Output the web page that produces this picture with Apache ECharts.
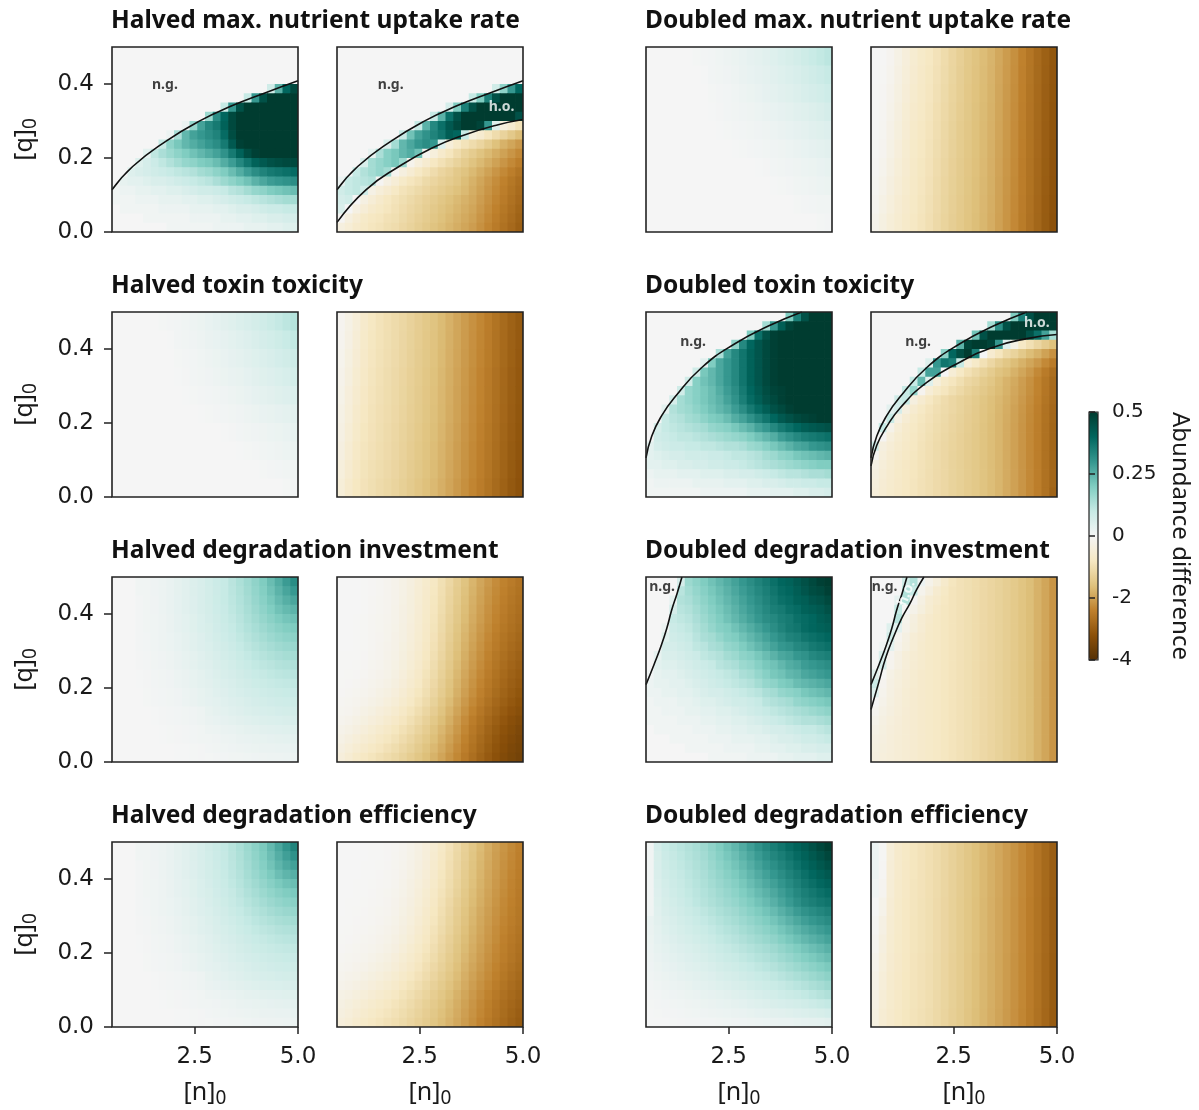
<!DOCTYPE html>
<html>
<head>
<meta charset="utf-8">
<script src="https://cdn.jsdelivr.net/npm/echarts@6/dist/echarts.min.js"></script>
<style>
html,body{margin:0;padding:0;background:#ffffff;}
#chart{width:1199px;height:1110px;}
</style>
</head>
<body>
<div id="chart"></div>
<script>
// ---------------- tick labels / titles ----------------
const panelTitles = [
  'Halved max. nutrient uptake rate', 'Doubled max. nutrient uptake rate',
  'Halved toxin toxicity', 'Doubled toxin toxicity',
  'Halved degradation investment', 'Doubled degradation investment',
  'Halved degradation efficiency', 'Doubled degradation efficiency'
];
const xTicks = [2.5, 5.0];
const yTicks = [0.0, 0.2, 0.4];
const cbTickPos = [-1, -0.5, 0, 0.5, 1];
const cbTickLabels = ['-4', '-2', '0', '0.25', '0.5'];
const xName = '{m|[n]}{s|0}';
const yName = '{m|[q]}{s|0}';
const cbName = 'Abundance difference';

// ---------------- abundance-difference fields (rows: top q=0.5 -> bottom q=0; cols: n=0.5 -> 5) ----------------
const uptakeHalvedLeft = [
[0,0,0,0,0,0,0,0,0,0,0,0,0,0,0,0,0,0,0,0,0,0,0,0],
[0,0,0,0,0,0,0,0,0,0,0,0,0,0,0,0,0,0,0,0,0,0,0,0],
[0,0,0,0,0,0,0,0,0,0,0,0,0,0,0,0,0,0,0,0,0,0,0,0],
[0,0,0,0,0,0,0,0,0,0,0,0,0,0,0,0,0,0,0,0,0,0,0,0],
[0,0,0,0,0,0,0,0,0,0,0,0,0,0,0,0,0,0,0,0,0.08,0.25,0.4,0.47],
[0,0,0,0,0,0,0,0,0,0,0,0,0,0,0,0,0,0.1,0.3,0.45,0.5,0.5,0.5,0.5],
[0,0,0,0,0,0,0,0,0,0,0,0,0,0,0.1,0.3,0.45,0.5,0.5,0.5,0.5,0.5,0.5,0.5],
[0,0,0,0,0,0,0,0,0,0,0,0,0.16,0.32,0.4,0.47,0.5,0.5,0.5,0.5,0.5,0.5,0.5,0.5],
[0,0,0,0,0,0,0,0,0,0.02,0.17,0.28,0.33,0.36,0.41,0.47,0.5,0.5,0.5,0.5,0.5,0.5,0.5,0.5],
[0,0,0,0,0,0,0,0.02,0.14,0.24,0.28,0.3,0.32,0.34,0.39,0.46,0.5,0.5,0.5,0.5,0.5,0.5,0.5,0.5],
[0,0,0,0,0,0,0.1,0.18,0.21,0.24,0.26,0.28,0.3,0.32,0.36,0.43,0.49,0.5,0.5,0.5,0.5,0.5,0.5,0.5],
[0,0,0,0,0.04,0.11,0.14,0.16,0.18,0.2,0.22,0.24,0.26,0.28,0.31,0.36,0.41,0.46,0.49,0.5,0.5,0.5,0.5,0.5],
[0,0,0,0.05,0.07,0.09,0.11,0.13,0.15,0.17,0.18,0.2,0.21,0.23,0.26,0.29,0.33,0.37,0.41,0.43,0.45,0.46,0.47,0.47],
[0,0,0.05,0.06,0.07,0.08,0.09,0.1,0.11,0.12,0.13,0.15,0.16,0.18,0.2,0.23,0.26,0.29,0.32,0.34,0.36,0.37,0.38,0.39],
[0,0.03,0.04,0.04,0.05,0.06,0.06,0.07,0.08,0.09,0.1,0.11,0.12,0.14,0.16,0.18,0.2,0.22,0.25,0.27,0.29,0.3,0.31,0.32],
[0.01,0.02,0.02,0.03,0.03,0.04,0.04,0.05,0.05,0.06,0.07,0.08,0.08,0.09,0.1,0.12,0.13,0.15,0.17,0.18,0.2,0.21,0.22,0.23],
[0.01,0.01,0.01,0.02,0.02,0.02,0.03,0.03,0.03,0.04,0.04,0.05,0.05,0.06,0.07,0.08,0.09,0.1,0.11,0.12,0.13,0.14,0.15,0.15],
[0,0.01,0.01,0.01,0.01,0.01,0.02,0.02,0.02,0.02,0.03,0.03,0.03,0.04,0.04,0.05,0.06,0.06,0.07,0.08,0.09,0.09,0.1,0.1],
[0,0,0,0,0.01,0.01,0.01,0.01,0.01,0.01,0.02,0.02,0.02,0.02,0.03,0.03,0.04,0.04,0.05,0.05,0.06,0.06,0.07,0.07],
[0,0,0,0,0,0,0,0.01,0.01,0.01,0.01,0.01,0.01,0.02,0.02,0.02,0.02,0.03,0.03,0.03,0.04,0.04,0.05,0.05]
];
const uptakeHalvedRight = [
[0,0,0,0,0,0,0,0,0,0,0,0,0,0,0,0,0,0,0,0,0,0,0,0],
[0,0,0,0,0,0,0,0,0,0,0,0,0,0,0,0,0,0,0,0,0,0,0,0],
[0,0,0,0,0,0,0,0,0,0,0,0,0,0,0,0,0,0,0,0,0,0,0,0],
[0,0,0,0,0,0,0,0,0,0,0,0,0,0,0,0,0,0,0,0,0,0,0,0],
[0,0,0,0,0,0,0,0,0,0,0,0,0,0,0,0,0,0,0,0,0.08,0.18,0.3,0.4],
[0,0,0,0,0,0,0,0,0,0,0,0,0,0,0,0,0,0.1,0.2,0.35,0.45,0.5,0.5,0.5],
[0,0,0,0,0,0,0,0,0,0,0,0,0,0,0.07,0.2,0.35,0.45,0.5,0.5,0.5,0.5,0.5,0.5],
[0,0,0,0,0,0,0,0,0,0,0,0,0.1,0.25,0.38,0.45,0.5,0.5,0.5,0.5,0.5,0.5,0.5,0.45],
[0,0,0,0,0,0,0,0,0,0,0.1,0.25,0.33,0.38,0.43,0.47,0.5,0.5,0.48,0.3,0.05,-0.4,-0.6,-0.9],
[0,0,0,0,0,0,0,0,0.1,0.22,0.28,0.31,0.34,0.37,0.42,0.4,0.1,-0.4,-0.6,-0.85,-1.05,-1.25,-1.45,-1.65],
[0,0,0,0,0,0,0.06,0.15,0.24,0.27,0.3,0.32,0.3,0.05,-0.45,-0.7,-0.9,-1.05,-1.2,-1.4,-1.6,-1.8,-1.95,-2.1],
[0,0,0,0,0.03,0.14,0.19,0.21,0.24,0.26,0.22,-0.1,-0.4,-0.65,-0.85,-1.05,-1.25,-1.4,-1.55,-1.7,-1.85,-2.0,-2.15,-2.3],
[0,0,0,0.06,0.15,0.17,0.19,0.21,0.16,-0.15,-0.4,-0.6,-0.8,-0.95,-1.1,-1.25,-1.4,-1.55,-1.7,-1.85,-2.0,-2.15,-2.3,-2.45],
[0,0,0.1,0.13,0.15,0.17,0.15,-0.1,-0.35,-0.55,-0.75,-0.9,-1.05,-1.2,-1.3,-1.45,-1.55,-1.7,-1.85,-2.0,-2.15,-2.3,-2.45,-2.6],
[0.02,0.1,0.11,0.12,0.13,-0.05,-0.3,-0.5,-0.7,-0.85,-0.95,-1.1,-1.2,-1.3,-1.4,-1.5,-1.65,-1.8,-1.95,-2.1,-2.25,-2.4,-2.55,-2.7],
[0.08,0.1,0.11,0.08,-0.25,-0.45,-0.6,-0.75,-0.9,-1.0,-1.1,-1.2,-1.3,-1.4,-1.5,-1.6,-1.7,-1.85,-2.0,-2.15,-2.3,-2.45,-2.6,-2.75],
[0.07,0.08,0,-0.3,-0.5,-0.65,-0.8,-0.9,-1.0,-1.1,-1.2,-1.3,-1.4,-1.5,-1.6,-1.7,-1.8,-1.9,-2.05,-2.2,-2.35,-2.5,-2.65,-2.8],
[0.06,0,-0.3,-0.5,-0.65,-0.75,-0.85,-0.95,-1.05,-1.15,-1.25,-1.35,-1.45,-1.55,-1.65,-1.75,-1.85,-1.95,-2.1,-2.25,-2.4,-2.55,-2.7,-2.85],
[-0.05,-0.35,-0.55,-0.7,-0.8,-0.85,-0.95,-1.0,-1.1,-1.2,-1.3,-1.4,-1.5,-1.6,-1.7,-1.8,-1.9,-2.0,-2.15,-2.3,-2.45,-2.6,-2.75,-2.9],
[-0.35,-0.5,-0.65,-0.75,-0.85,-0.9,-1.0,-1.05,-1.15,-1.25,-1.35,-1.45,-1.55,-1.65,-1.75,-1.85,-1.95,-2.05,-2.2,-2.35,-2.5,-2.65,-2.8,-2.95]
];
const uptakeDoubledLeft = [
[0,0,0,0,0,0.001,0.004,0.006,0.009,0.012,0.017,0.022,0.027,0.032,0.037,0.043,0.05,0.058,0.066,0.075,0.085,0.095,0.105,0.115],
[0,0,0,0,0,0,0,0.003,0.008,0.011,0.014,0.018,0.023,0.028,0.033,0.038,0.043,0.049,0.056,0.064,0.072,0.08,0.09,0.1],
[0,0,0,0,0,0,0,0.001,0.004,0.006,0.009,0.012,0.017,0.022,0.027,0.033,0.038,0.043,0.048,0.054,0.062,0.069,0.076,0.084],
[0,0,0,0,0,0,0,0,0.002,0.005,0.009,0.011,0.014,0.016,0.019,0.023,0.028,0.033,0.038,0.043,0.048,0.054,0.061,0.069],
[0,0,0,0,0,0,0,0,0,0.002,0.004,0.006,0.009,0.011,0.014,0.016,0.019,0.023,0.028,0.033,0.038,0.043,0.047,0.052],
[0,0,0,0,0,0,0,0,0,0,0,0.002,0.004,0.006,0.009,0.011,0.014,0.016,0.019,0.023,0.028,0.033,0.038,0.042],
[0,0,0,0,0,0,0,0,0,0,0,0,0,0.001,0.003,0.005,0.008,0.011,0.014,0.016,0.019,0.022,0.026,0.031],
[0,0,0,0,0,0,0,0,0,0,0,0,0,0,0,0,0.002,0.004,0.007,0.01,0.013,0.016,0.019,0.022],
[0,0,0,0,0,0,0,0,0,0,0,0,0,0,0,0,0,0,0.001,0.004,0.007,0.009,0.01,0.011],
[0,0,0,0,0,0,0,0,0,0,0,0,0,0,0,0,0,0,0,0,0,0.001,0.004,0.006]
];
const uptakeDoubledRight = [
[0,-0.02,-0.1,-0.25,-0.42,-0.57,-0.7,-0.8,-0.92,-1.06,-1.2,-1.33,-1.45,-1.56,-1.66,-1.77,-1.92,-2.07,-2.22,-2.4,-2.58,-2.76,-2.94,-3.1],
[0,-0.03,-0.13,-0.29,-0.45,-0.6,-0.72,-0.82,-0.94,-1.08,-1.21,-1.34,-1.46,-1.57,-1.67,-1.78,-1.93,-2.08,-2.23,-2.41,-2.59,-2.77,-2.95,-3.11],
[-0.01,-0.05,-0.16,-0.32,-0.48,-0.62,-0.74,-0.84,-0.96,-1.1,-1.23,-1.35,-1.47,-1.58,-1.68,-1.79,-1.94,-2.09,-2.24,-2.42,-2.6,-2.78,-2.96,-3.12],
[-0.01,-0.06,-0.19,-0.36,-0.52,-0.65,-0.76,-0.86,-0.99,-1.12,-1.25,-1.37,-1.48,-1.59,-1.69,-1.8,-1.95,-2.1,-2.25,-2.43,-2.61,-2.79,-2.97,-3.13],
[-0.02,-0.08,-0.22,-0.39,-0.55,-0.68,-0.78,-0.88,-1.01,-1.14,-1.27,-1.39,-1.49,-1.6,-1.7,-1.81,-1.96,-2.11,-2.26,-2.44,-2.62,-2.8,-2.98,-3.14],
[-0.03,-0.1,-0.25,-0.42,-0.57,-0.7,-0.8,-0.9,-1.03,-1.16,-1.28,-1.4,-1.5,-1.6,-1.7,-1.82,-1.97,-2.12,-2.27,-2.45,-2.62,-2.8,-2.98,-3.15],
[-0.05,-0.14,-0.3,-0.46,-0.6,-0.72,-0.82,-0.92,-1.05,-1.18,-1.3,-1.41,-1.51,-1.61,-1.71,-1.83,-1.98,-2.13,-2.28,-2.46,-2.63,-2.81,-2.99,-3.16],
[-0.08,-0.19,-0.35,-0.5,-0.63,-0.74,-0.84,-0.94,-1.07,-1.2,-1.31,-1.42,-1.52,-1.62,-1.72,-1.84,-1.99,-2.14,-2.29,-2.47,-2.64,-2.82,-3.0,-3.17],
[-0.12,-0.25,-0.4,-0.54,-0.66,-0.76,-0.86,-0.96,-1.09,-1.21,-1.32,-1.43,-1.53,-1.63,-1.73,-1.85,-2.0,-2.15,-2.3,-2.48,-2.65,-2.83,-3.01,-3.18],
[-0.18,-0.32,-0.46,-0.58,-0.69,-0.79,-0.88,-0.98,-1.11,-1.23,-1.34,-1.44,-1.54,-1.64,-1.74,-1.86,-2.01,-2.16,-2.31,-2.49,-2.66,-2.84,-3.02,-3.2]
];
const toxHalvedLeft = [
[0,0,0,0,0,0.001,0.004,0.006,0.009,0.012,0.017,0.022,0.028,0.034,0.041,0.048,0.056,0.064,0.072,0.081,0.092,0.103,0.114,0.125],
[0,0,0,0,0,0,0,0.003,0.008,0.011,0.014,0.018,0.023,0.028,0.033,0.039,0.046,0.053,0.061,0.069,0.076,0.085,0.095,0.105],
[0,0,0,0,0,0,0,0.001,0.004,0.006,0.009,0.012,0.017,0.022,0.027,0.032,0.037,0.043,0.05,0.057,0.064,0.071,0.079,0.088],
[0,0,0,0,0,0,0,0,0.002,0.005,0.009,0.011,0.014,0.018,0.022,0.026,0.029,0.034,0.041,0.047,0.052,0.058,0.065,0.073],
[0,0,0,0,0,0,0,0,0,0.002,0.004,0.006,0.009,0.011,0.014,0.017,0.022,0.027,0.032,0.037,0.042,0.047,0.052,0.057],
[0,0,0,0,0,0,0,0,0,0,0,0.002,0.004,0.006,0.009,0.011,0.014,0.018,0.022,0.026,0.029,0.032,0.036,0.041],
[0,0,0,0,0,0,0,0,0,0,0,0,0,0.001,0.003,0.005,0.008,0.011,0.014,0.016,0.019,0.022,0.026,0.031],
[0,0,0,0,0,0,0,0,0,0,0,0,0,0,0,0,0.002,0.004,0.007,0.01,0.013,0.016,0.019,0.022],
[0,0,0,0,0,0,0,0,0,0,0,0,0,0,0,0,0,0,0.001,0.004,0.007,0.009,0.01,0.011],
[0,0,0,0,0,0,0,0,0,0,0,0,0,0,0,0,0,0,0,0,0,0.001,0.004,0.006]
];
const toxHalvedRight = [
[-0.1,-0.25,-0.45,-0.65,-0.8,-0.9,-0.99,-1.07,-1.16,-1.26,-1.36,-1.46,-1.56,-1.68,-1.81,-1.94,-2.07,-2.2,-2.33,-2.47,-2.62,-2.77,-2.92,-3.04],
[-0.12,-0.29,-0.49,-0.68,-0.82,-0.91,-1.0,-1.08,-1.17,-1.27,-1.37,-1.47,-1.57,-1.69,-1.82,-1.95,-2.08,-2.21,-2.34,-2.48,-2.63,-2.78,-2.93,-3.05],
[-0.15,-0.33,-0.53,-0.71,-0.84,-0.93,-1.01,-1.09,-1.18,-1.28,-1.38,-1.48,-1.58,-1.7,-1.83,-1.96,-2.09,-2.22,-2.35,-2.49,-2.64,-2.79,-2.94,-3.06],
[-0.18,-0.37,-0.57,-0.74,-0.86,-0.95,-1.03,-1.11,-1.2,-1.3,-1.4,-1.5,-1.6,-1.72,-1.85,-1.98,-2.11,-2.24,-2.37,-2.51,-2.66,-2.81,-2.96,-3.08],
[-0.21,-0.41,-0.61,-0.77,-0.88,-0.96,-1.04,-1.12,-1.21,-1.31,-1.41,-1.51,-1.61,-1.73,-1.86,-1.99,-2.12,-2.25,-2.38,-2.52,-2.67,-2.82,-2.97,-3.09],
[-0.25,-0.45,-0.65,-0.8,-0.9,-0.98,-1.05,-1.13,-1.22,-1.32,-1.42,-1.52,-1.62,-1.74,-1.87,-2.0,-2.13,-2.26,-2.39,-2.53,-2.68,-2.83,-2.98,-3.1],
[-0.29,-0.5,-0.69,-0.83,-0.92,-1.0,-1.07,-1.15,-1.24,-1.34,-1.44,-1.54,-1.64,-1.76,-1.89,-2.02,-2.15,-2.28,-2.41,-2.55,-2.7,-2.85,-3.0,-3.12],
[-0.34,-0.55,-0.73,-0.86,-0.94,-1.02,-1.09,-1.17,-1.26,-1.36,-1.46,-1.56,-1.66,-1.78,-1.91,-2.04,-2.17,-2.3,-2.43,-2.57,-2.72,-2.87,-3.02,-3.14],
[-0.4,-0.6,-0.77,-0.89,-0.97,-1.04,-1.11,-1.19,-1.28,-1.38,-1.48,-1.58,-1.68,-1.8,-1.93,-2.06,-2.19,-2.32,-2.45,-2.59,-2.74,-2.89,-3.04,-3.16],
[-0.46,-0.66,-0.81,-0.92,-1.0,-1.07,-1.14,-1.22,-1.31,-1.41,-1.51,-1.61,-1.71,-1.83,-1.96,-2.09,-2.22,-2.35,-2.48,-2.62,-2.77,-2.92,-3.07,-3.18]
];
const toxDoubledLeft = [
[0,0,0,0,0,0,0,0,0,0,0,0,0,0,0,0,0,0,0.2,0.35,0.45,0.5,0.5,0.5],
[0,0,0,0,0,0,0,0,0,0,0,0,0,0,0,0.15,0.3,0.42,0.48,0.5,0.5,0.5,0.5,0.5],
[0,0,0,0,0,0,0,0,0,0,0,0,0,0.2,0.38,0.45,0.49,0.5,0.5,0.5,0.5,0.5,0.5,0.5],
[0,0,0,0,0,0,0,0,0,0,0,0.18,0.33,0.4,0.44,0.47,0.49,0.5,0.5,0.5,0.5,0.5,0.5,0.5],
[0,0,0,0,0,0,0,0,0,0.14,0.28,0.33,0.37,0.41,0.44,0.47,0.49,0.5,0.5,0.5,0.5,0.5,0.5,0.5],
[0,0,0,0,0,0,0,0.04,0.2,0.27,0.3,0.33,0.37,0.41,0.44,0.47,0.49,0.5,0.5,0.5,0.5,0.5,0.5,0.5],
[0,0,0,0,0,0,0.08,0.21,0.24,0.27,0.3,0.33,0.37,0.41,0.44,0.47,0.49,0.5,0.5,0.5,0.5,0.5,0.5,0.5],
[0,0,0,0,0,0.08,0.19,0.22,0.24,0.27,0.3,0.33,0.37,0.41,0.44,0.47,0.49,0.5,0.5,0.5,0.5,0.5,0.5,0.5],
[0,0,0,0,0.08,0.17,0.19,0.21,0.23,0.26,0.29,0.32,0.36,0.4,0.43,0.46,0.48,0.49,0.5,0.5,0.5,0.5,0.5,0.5],
[0,0,0,0.07,0.15,0.17,0.19,0.21,0.23,0.25,0.28,0.31,0.35,0.39,0.42,0.45,0.47,0.49,0.5,0.5,0.5,0.5,0.5,0.5],
[0,0,0.04,0.13,0.15,0.16,0.18,0.2,0.22,0.24,0.26,0.29,0.32,0.36,0.39,0.42,0.45,0.47,0.49,0.5,0.5,0.5,0.5,0.5],
[0,0,0.1,0.12,0.13,0.15,0.16,0.18,0.2,0.21,0.23,0.26,0.28,0.31,0.34,0.37,0.4,0.43,0.45,0.47,0.48,0.49,0.5,0.5],
[0,0.07,0.1,0.11,0.12,0.13,0.14,0.15,0.17,0.18,0.19,0.21,0.23,0.25,0.28,0.3,0.33,0.36,0.38,0.4,0.42,0.43,0.44,0.45],
[0,0.08,0.09,0.1,0.11,0.11,0.12,0.13,0.14,0.15,0.16,0.17,0.18,0.2,0.22,0.24,0.26,0.29,0.31,0.33,0.35,0.36,0.37,0.38],
[0.04,0.07,0.08,0.09,0.09,0.1,0.1,0.11,0.11,0.12,0.13,0.13,0.14,0.16,0.17,0.19,0.21,0.23,0.25,0.27,0.28,0.3,0.31,0.32],
[0.04,0.05,0.06,0.07,0.07,0.08,0.08,0.08,0.09,0.09,0.1,0.11,0.11,0.12,0.13,0.15,0.16,0.18,0.19,0.21,0.22,0.23,0.24,0.25],
[0.04,0.04,0.05,0.05,0.06,0.06,0.07,0.07,0.08,0.08,0.09,0.09,0.1,0.11,0.12,0.13,0.14,0.15,0.16,0.17,0.18,0.19,0.2,0.2],
[0.02,0.03,0.03,0.03,0.04,0.04,0.04,0.05,0.05,0.05,0.06,0.06,0.07,0.07,0.08,0.09,0.1,0.11,0.12,0.12,0.13,0.14,0.14,0.15],
[0.01,0.02,0.02,0.02,0.02,0.02,0.03,0.03,0.03,0.03,0.04,0.04,0.04,0.05,0.05,0.06,0.06,0.07,0.08,0.08,0.09,0.09,0.1,0.1],
[0.01,0.01,0.01,0.01,0.01,0.01,0.01,0.02,0.02,0.02,0.02,0.02,0.02,0.03,0.03,0.03,0.04,0.04,0.04,0.05,0.05,0.06,0.06,0.07]
];
const toxDoubledRight = [
[0,0,0,0,0,0,0,0,0,0,0,0,0,0,0,0,0,0,0.2,0.35,0.45,0.5,0.5,0.5],
[0,0,0,0,0,0,0,0,0,0,0,0,0,0,0,0.15,0.32,0.45,0.5,0.5,0.5,0.5,0.5,0.5],
[0,0,0,0,0,0,0,0,0,0,0,0,0,0.22,0.45,0.5,0.5,0.5,0.5,0.5,0.45,0.38,0.28,0.15],
[0,0,0,0,0,0,0,0,0,0,0,0.25,0.48,0.5,0.5,0.48,0.3,0.05,-0.25,-0.75,-0.97,-1.18,-1.38,-1.6],
[0,0,0,0,0,0,0,0,0,0.18,0.4,0.46,0.5,0.35,0,-0.6,-0.85,-1.1,-1.25,-1.45,-1.65,-1.8,-2.0,-2.2],
[0,0,0,0,0,0,0,0.05,0.3,0.37,0.35,0.1,-0.45,-0.7,-0.95,-1.15,-1.35,-1.5,-1.65,-1.8,-1.95,-2.1,-2.3,-2.5],
[0,0,0,0,0,0,0.1,0.28,0.28,0,-0.5,-0.75,-0.95,-1.1,-1.25,-1.4,-1.55,-1.65,-1.8,-1.95,-2.1,-2.3,-2.5,-2.7],
[0,0,0,0,0,0.1,0.24,0.05,-0.4,-0.7,-0.85,-1.0,-1.15,-1.25,-1.4,-1.5,-1.65,-1.78,-1.9,-2.05,-2.2,-2.38,-2.57,-2.77],
[0,0,0,0,0.1,0.17,-0.1,-0.5,-0.7,-0.85,-1.0,-1.12,-1.25,-1.35,-1.45,-1.57,-1.68,-1.8,-1.93,-2.07,-2.22,-2.38,-2.58,-2.78],
[0,0,0,0.08,0.1,-0.35,-0.6,-0.78,-0.93,-1.05,-1.15,-1.25,-1.33,-1.42,-1.52,-1.62,-1.72,-1.84,-1.96,-2.1,-2.25,-2.4,-2.6,-2.8],
[0,0,0.04,0.07,-0.35,-0.6,-0.75,-0.88,-0.98,-1.07,-1.16,-1.25,-1.34,-1.43,-1.53,-1.63,-1.74,-1.86,-1.99,-2.13,-2.28,-2.43,-2.63,-2.83],
[0,0,0.1,-0.3,-0.55,-0.7,-0.82,-0.92,-1.02,-1.1,-1.19,-1.27,-1.36,-1.44,-1.54,-1.64,-1.75,-1.87,-2.0,-2.14,-2.29,-2.44,-2.64,-2.84],
[0,0.1,-0.2,-0.5,-0.65,-0.76,-0.86,-0.95,-1.04,-1.12,-1.2,-1.28,-1.37,-1.45,-1.55,-1.65,-1.75,-1.88,-2.01,-2.15,-2.3,-2.45,-2.65,-2.85],
[0,-0.05,-0.4,-0.58,-0.68,-0.78,-0.88,-0.97,-1.06,-1.14,-1.22,-1.3,-1.38,-1.46,-1.55,-1.65,-1.75,-1.88,-2.01,-2.15,-2.3,-2.45,-2.65,-2.85],
[0.08,-0.35,-0.5,-0.62,-0.72,-0.8,-0.9,-0.98,-1.07,-1.15,-1.23,-1.3,-1.38,-1.46,-1.55,-1.65,-1.75,-1.88,-2.01,-2.15,-2.3,-2.45,-2.65,-2.85],
[-0.05,-0.4,-0.55,-0.66,-0.75,-0.82,-0.91,-0.99,-1.08,-1.16,-1.24,-1.31,-1.39,-1.46,-1.55,-1.65,-1.75,-1.88,-2.01,-2.15,-2.3,-2.45,-2.65,-2.85],
[-0.28,-0.45,-0.58,-0.68,-0.77,-0.84,-0.92,-1.0,-1.08,-1.16,-1.24,-1.31,-1.39,-1.46,-1.55,-1.65,-1.75,-1.88,-2.01,-2.15,-2.3,-2.45,-2.65,-2.85],
[-0.35,-0.5,-0.61,-0.7,-0.78,-0.85,-0.93,-1.01,-1.09,-1.16,-1.24,-1.31,-1.39,-1.46,-1.55,-1.65,-1.75,-1.88,-2.01,-2.15,-2.3,-2.45,-2.65,-2.85],
[-0.4,-0.53,-0.63,-0.71,-0.79,-0.86,-0.94,-1.01,-1.09,-1.16,-1.24,-1.31,-1.39,-1.46,-1.55,-1.65,-1.75,-1.88,-2.01,-2.15,-2.3,-2.45,-2.65,-2.85],
[-0.43,-0.55,-0.64,-0.72,-0.79,-0.86,-0.94,-1.01,-1.09,-1.16,-1.24,-1.31,-1.39,-1.46,-1.55,-1.65,-1.75,-1.88,-2.01,-2.15,-2.3,-2.45,-2.65,-2.9]
];
const invHalvedLeft = [
[0,0,0,0.01,0.01,0.015,0.02,0.027,0.035,0.044,0.054,0.064,0.077,0.089,0.1,0.119,0.136,0.156,0.178,0.2,0.23,0.26,0.292,0.321],
[0,0,0,0.01,0.01,0.015,0.02,0.027,0.035,0.044,0.054,0.064,0.075,0.087,0.1,0.117,0.132,0.152,0.173,0.194,0.22,0.248,0.274,0.297],
[0,0,0,0.007,0.011,0.014,0.02,0.026,0.034,0.043,0.052,0.062,0.074,0.086,0.099,0.114,0.129,0.147,0.168,0.187,0.21,0.235,0.256,0.272],
[0,0,0,0.007,0.011,0.014,0.02,0.026,0.034,0.043,0.052,0.062,0.072,0.084,0.096,0.111,0.125,0.142,0.161,0.179,0.198,0.22,0.236,0.247],
[0,0,0,0.007,0.01,0.013,0.018,0.024,0.032,0.039,0.048,0.058,0.069,0.081,0.093,0.106,0.12,0.136,0.152,0.169,0.185,0.201,0.215,0.223],
[0,0,0,0.007,0.01,0.013,0.018,0.024,0.032,0.039,0.048,0.058,0.066,0.078,0.089,0.101,0.115,0.129,0.143,0.158,0.172,0.185,0.196,0.202],
[0,0,0,0.006,0.009,0.012,0.017,0.021,0.028,0.035,0.043,0.052,0.063,0.073,0.084,0.096,0.108,0.121,0.134,0.146,0.159,0.17,0.179,0.183],
[0,0,0,0.006,0.009,0.012,0.017,0.021,0.028,0.035,0.043,0.052,0.059,0.069,0.079,0.09,0.101,0.113,0.124,0.135,0.145,0.155,0.162,0.165],
[0,0,0,0.005,0.007,0.01,0.014,0.018,0.023,0.03,0.037,0.045,0.055,0.064,0.074,0.083,0.094,0.104,0.115,0.124,0.132,0.14,0.146,0.148],
[0,0,0,0.005,0.007,0.01,0.014,0.018,0.023,0.03,0.037,0.045,0.051,0.06,0.068,0.077,0.086,0.095,0.105,0.113,0.119,0.127,0.131,0.133],
[0,0,0,0.003,0.005,0.008,0.011,0.014,0.019,0.024,0.03,0.037,0.046,0.054,0.063,0.07,0.079,0.087,0.095,0.102,0.108,0.114,0.118,0.12],
[0,0,0,0.003,0.005,0.008,0.011,0.014,0.019,0.024,0.03,0.037,0.042,0.05,0.057,0.064,0.072,0.079,0.086,0.092,0.097,0.103,0.106,0.107],
[0,0,0,0,0.004,0.006,0.008,0.011,0.014,0.019,0.024,0.03,0.038,0.045,0.051,0.058,0.065,0.071,0.077,0.083,0.088,0.092,0.095,0.096],
[0,0,0,0,0.004,0.006,0.008,0.011,0.014,0.019,0.024,0.03,0.034,0.04,0.045,0.052,0.057,0.063,0.069,0.074,0.078,0.082,0.084,0.085],
[0,0,0,0,0,0.003,0.005,0.006,0.009,0.011,0.014,0.018,0.029,0.035,0.04,0.045,0.051,0.056,0.06,0.065,0.068,0.071,0.073,0.074],
[0,0,0,0,0,0.003,0.005,0.006,0.009,0.011,0.014,0.018,0.024,0.028,0.033,0.037,0.042,0.046,0.05,0.054,0.056,0.059,0.061,0.062],
[0,0,0,0,0,0,0.002,0.004,0.005,0.007,0.009,0.011,0.017,0.02,0.024,0.027,0.031,0.035,0.038,0.041,0.044,0.046,0.047,0.048],
[0,0,0,0,0,0,0.002,0.004,0.005,0.007,0.009,0.011,0.011,0.014,0.017,0.02,0.023,0.026,0.029,0.031,0.033,0.035,0.036,0.037],
[0,0,0,0,0,0,0,0,0.002,0.003,0.004,0.005,0.008,0.01,0.012,0.015,0.017,0.019,0.022,0.024,0.025,0.026,0.027,0.028],
[0,0,0,0,0,0,0,0,0.002,0.003,0.004,0.005,0.004,0.006,0.008,0.01,0.011,0.013,0.015,0.016,0.017,0.018,0.019,0.02]
];
const invHalvedRight = [
[0,0,0,-0.02,-0.04,-0.07,-0.11,-0.17,-0.25,-0.35,-0.5,-0.64,-0.79,-0.97,-1.16,-1.36,-1.56,-1.76,-1.94,-2.1,-2.26,-2.39,-2.5,-2.61],
[0,0,0,-0.02,-0.04,-0.07,-0.11,-0.17,-0.26,-0.37,-0.51,-0.66,-0.81,-0.99,-1.19,-1.39,-1.59,-1.79,-1.97,-2.14,-2.29,-2.42,-2.54,-2.64],
[0,0,0,-0.02,-0.05,-0.08,-0.12,-0.18,-0.27,-0.38,-0.52,-0.67,-0.83,-1.02,-1.22,-1.42,-1.62,-1.82,-2.0,-2.17,-2.32,-2.45,-2.57,-2.67],
[0,0,0,-0.02,-0.05,-0.08,-0.12,-0.19,-0.28,-0.39,-0.53,-0.69,-0.85,-1.04,-1.25,-1.45,-1.65,-1.85,-2.03,-2.2,-2.35,-2.48,-2.6,-2.7],
[0,0,-0.01,-0.03,-0.06,-0.09,-0.13,-0.2,-0.29,-0.4,-0.54,-0.7,-0.87,-1.07,-1.28,-1.48,-1.68,-1.88,-2.06,-2.23,-2.38,-2.51,-2.63,-2.73],
[0,0,-0.01,-0.03,-0.06,-0.09,-0.14,-0.21,-0.3,-0.42,-0.56,-0.72,-0.89,-1.1,-1.31,-1.52,-1.72,-1.92,-2.1,-2.27,-2.42,-2.55,-2.67,-2.77],
[0,0,-0.01,-0.03,-0.07,-0.1,-0.15,-0.22,-0.31,-0.43,-0.57,-0.74,-0.92,-1.13,-1.34,-1.55,-1.76,-1.96,-2.14,-2.31,-2.46,-2.6,-2.72,-2.82],
[0,0,-0.01,-0.03,-0.07,-0.11,-0.16,-0.23,-0.33,-0.45,-0.59,-0.77,-0.95,-1.16,-1.38,-1.59,-1.8,-2.0,-2.18,-2.35,-2.5,-2.64,-2.76,-2.86],
[-0.01,-0.01,-0.02,-0.04,-0.08,-0.12,-0.17,-0.24,-0.35,-0.48,-0.62,-0.8,-0.98,-1.19,-1.41,-1.63,-1.84,-2.04,-2.22,-2.39,-2.55,-2.69,-2.81,-2.91],
[-0.01,-0.02,-0.03,-0.05,-0.09,-0.13,-0.19,-0.27,-0.38,-0.51,-0.66,-0.84,-1.03,-1.24,-1.45,-1.67,-1.88,-2.08,-2.26,-2.43,-2.59,-2.73,-2.86,-2.96],
[-0.02,-0.03,-0.04,-0.07,-0.11,-0.16,-0.21,-0.3,-0.42,-0.56,-0.71,-0.89,-1.08,-1.29,-1.5,-1.72,-1.93,-2.13,-2.31,-2.48,-2.64,-2.78,-2.91,-3.01],
[-0.03,-0.04,-0.06,-0.1,-0.14,-0.2,-0.26,-0.35,-0.47,-0.61,-0.76,-0.94,-1.13,-1.34,-1.55,-1.77,-1.98,-2.18,-2.36,-2.53,-2.69,-2.83,-2.96,-3.06],
[-0.04,-0.06,-0.09,-0.13,-0.18,-0.25,-0.32,-0.42,-0.54,-0.68,-0.83,-1.0,-1.19,-1.39,-1.6,-1.82,-2.03,-2.23,-2.41,-2.58,-2.74,-2.88,-3.01,-3.12],
[-0.06,-0.09,-0.13,-0.18,-0.24,-0.31,-0.4,-0.5,-0.62,-0.76,-0.91,-1.08,-1.27,-1.47,-1.67,-1.89,-2.1,-2.3,-2.48,-2.65,-2.81,-2.95,-3.08,-3.19],
[-0.09,-0.12,-0.18,-0.25,-0.32,-0.41,-0.5,-0.61,-0.73,-0.87,-1.02,-1.18,-1.36,-1.56,-1.76,-1.97,-2.18,-2.38,-2.56,-2.73,-2.89,-3.03,-3.16,-3.26],
[-0.13,-0.18,-0.25,-0.33,-0.41,-0.5,-0.61,-0.72,-0.84,-0.97,-1.12,-1.28,-1.46,-1.64,-1.84,-2.05,-2.26,-2.46,-2.64,-2.81,-2.97,-3.11,-3.24,-3.34],
[-0.19,-0.26,-0.34,-0.43,-0.52,-0.62,-0.72,-0.83,-0.95,-1.08,-1.22,-1.37,-1.55,-1.73,-1.92,-2.12,-2.33,-2.53,-2.7,-2.88,-3.04,-3.18,-3.3,-3.41],
[-0.26,-0.35,-0.45,-0.54,-0.63,-0.73,-0.82,-0.93,-1.05,-1.18,-1.32,-1.46,-1.63,-1.81,-2.0,-2.19,-2.39,-2.59,-2.77,-2.94,-3.1,-3.24,-3.36,-3.46],
[-0.34,-0.45,-0.56,-0.66,-0.75,-0.84,-0.94,-1.04,-1.15,-1.27,-1.41,-1.55,-1.71,-1.88,-2.07,-2.26,-2.45,-2.64,-2.82,-2.99,-3.15,-3.29,-3.41,-3.5],
[-0.42,-0.55,-0.68,-0.78,-0.87,-0.96,-1.05,-1.14,-1.25,-1.37,-1.5,-1.63,-1.79,-1.96,-2.14,-2.32,-2.51,-2.7,-2.88,-3.05,-3.2,-3.34,-3.45,-3.54]
];
const invDoubledLeft = [
[0,0,0,0,0.07,0.16,0.18,0.2,0.22,0.24,0.26,0.28,0.3,0.32,0.34,0.36,0.38,0.4,0.41,0.43,0.45,0.47,0.49,0.5],
[0,0,0,0,0.12,0.15,0.17,0.19,0.21,0.23,0.25,0.27,0.29,0.31,0.33,0.35,0.37,0.39,0.4,0.42,0.44,0.46,0.47,0.49],
[0,0,0,0.03,0.13,0.14,0.16,0.18,0.2,0.22,0.24,0.26,0.28,0.3,0.32,0.34,0.36,0.38,0.39,0.41,0.42,0.44,0.45,0.47],
[0,0,0,0.07,0.12,0.13,0.15,0.17,0.19,0.21,0.23,0.25,0.27,0.29,0.31,0.33,0.35,0.36,0.38,0.39,0.41,0.42,0.43,0.45],
[0,0,0,0.1,0.11,0.12,0.14,0.16,0.18,0.2,0.22,0.24,0.26,0.28,0.3,0.32,0.33,0.35,0.36,0.38,0.39,0.4,0.42,0.43],
[0,0,0.02,0.09,0.1,0.11,0.13,0.15,0.17,0.19,0.2,0.22,0.24,0.26,0.28,0.3,0.32,0.34,0.36,0.37,0.39,0.4,0.41,0.42],
[0,0,0.05,0.08,0.09,0.1,0.12,0.14,0.15,0.17,0.19,0.2,0.22,0.24,0.26,0.28,0.3,0.32,0.34,0.35,0.37,0.38,0.39,0.4],
[0,0,0.07,0.07,0.08,0.09,0.11,0.12,0.14,0.15,0.17,0.18,0.2,0.22,0.24,0.26,0.28,0.3,0.31,0.33,0.34,0.36,0.37,0.38],
[0,0.03,0.06,0.06,0.07,0.08,0.09,0.11,0.12,0.13,0.15,0.16,0.18,0.19,0.21,0.23,0.25,0.27,0.28,0.3,0.31,0.33,0.34,0.35],
[0,0.04,0.05,0.05,0.06,0.07,0.08,0.09,0.1,0.12,0.13,0.14,0.16,0.17,0.19,0.21,0.22,0.24,0.26,0.27,0.29,0.3,0.31,0.32],
[0.01,0.03,0.04,0.04,0.05,0.06,0.07,0.08,0.09,0.1,0.11,0.12,0.14,0.15,0.17,0.19,0.21,0.22,0.24,0.25,0.27,0.28,0.29,0.3],
[0.02,0.03,0.03,0.04,0.04,0.05,0.06,0.07,0.08,0.09,0.1,0.11,0.12,0.13,0.15,0.17,0.18,0.2,0.21,0.23,0.24,0.25,0.26,0.27],
[0.02,0.02,0.03,0.03,0.04,0.04,0.05,0.06,0.07,0.07,0.08,0.09,0.1,0.11,0.12,0.14,0.15,0.17,0.18,0.19,0.21,0.22,0.23,0.24],
[0.01,0.02,0.02,0.02,0.03,0.03,0.04,0.05,0.05,0.06,0.07,0.08,0.08,0.09,0.1,0.12,0.13,0.14,0.15,0.17,0.18,0.19,0.2,0.21],
[0.01,0.01,0.02,0.02,0.02,0.03,0.03,0.04,0.04,0.05,0.05,0.06,0.07,0.08,0.09,0.1,0.11,0.12,0.13,0.14,0.15,0.16,0.17,0.18],
[0.01,0.01,0.01,0.01,0.02,0.02,0.02,0.03,0.03,0.04,0.04,0.05,0.05,0.06,0.07,0.08,0.09,0.1,0.11,0.12,0.13,0.13,0.14,0.15],
[0,0.01,0.01,0.01,0.01,0.01,0.02,0.02,0.02,0.03,0.03,0.04,0.04,0.05,0.05,0.06,0.07,0.07,0.08,0.09,0.1,0.1,0.11,0.12],
[0,0,0,0.01,0.01,0.01,0.01,0.01,0.02,0.02,0.02,0.03,0.03,0.03,0.04,0.04,0.05,0.06,0.06,0.07,0.08,0.08,0.09,0.1],
[0,0,0,0,0,0.01,0.01,0.01,0.01,0.01,0.02,0.02,0.02,0.02,0.03,0.03,0.04,0.04,0.05,0.05,0.06,0.06,0.07,0.07],
[0,0,0,0,0,0,0,0,0.01,0.01,0.01,0.01,0.01,0.02,0.02,0.02,0.02,0.03,0.03,0.04,0.04,0.04,0.05,0.05]
];
const invDoubledRight = [
[0,0,0,0,0.08,0.13,0.02,-0.2,-0.4,-0.65,-0.85,-0.94,-1.0,-1.06,-1.13,-1.2,-1.27,-1.35,-1.44,-1.54,-1.64,-1.8,-1.95,-2.15],
[0,0,0,0,0.13,0.1,-0.15,-0.35,-0.6,-0.75,-0.88,-0.94,-1.0,-1.06,-1.13,-1.2,-1.27,-1.35,-1.44,-1.54,-1.64,-1.8,-1.95,-2.15],
[0,0,0,0.03,0.13,-0.05,-0.3,-0.55,-0.65,-0.8,-0.88,-0.94,-1.0,-1.06,-1.13,-1.2,-1.27,-1.35,-1.44,-1.54,-1.64,-1.8,-1.95,-2.15],
[0,0,0,0.1,0,-0.2,-0.38,-0.58,-0.72,-0.82,-0.88,-0.94,-1.0,-1.06,-1.13,-1.2,-1.27,-1.35,-1.44,-1.54,-1.64,-1.8,-1.95,-2.15],
[0,0,0,0.12,-0.15,-0.35,-0.55,-0.65,-0.75,-0.82,-0.88,-0.94,-1.0,-1.06,-1.13,-1.2,-1.27,-1.35,-1.44,-1.54,-1.64,-1.8,-1.95,-2.15],
[0,0,0.05,0.04,-0.2,-0.38,-0.55,-0.68,-0.75,-0.82,-0.88,-0.94,-1.0,-1.06,-1.13,-1.2,-1.27,-1.35,-1.44,-1.54,-1.64,-1.8,-1.95,-2.15],
[0,0,0.08,-0.12,-0.3,-0.5,-0.6,-0.7,-0.75,-0.82,-0.88,-0.94,-1.0,-1.06,-1.13,-1.2,-1.27,-1.35,-1.44,-1.54,-1.64,-1.8,-1.95,-2.15],
[0,0.01,0.04,-0.18,-0.33,-0.5,-0.62,-0.7,-0.75,-0.82,-0.88,-0.94,-1.0,-1.06,-1.13,-1.2,-1.27,-1.35,-1.44,-1.54,-1.64,-1.8,-1.95,-2.15],
[0,0.06,-0.1,-0.28,-0.45,-0.55,-0.63,-0.7,-0.75,-0.82,-0.88,-0.94,-1.0,-1.06,-1.13,-1.2,-1.27,-1.35,-1.44,-1.54,-1.64,-1.8,-1.95,-2.15],
[0,0.07,-0.13,-0.3,-0.45,-0.55,-0.63,-0.7,-0.75,-0.82,-0.88,-0.94,-1.0,-1.06,-1.13,-1.2,-1.27,-1.35,-1.44,-1.54,-1.64,-1.8,-1.95,-2.15],
[0.05,-0.03,-0.25,-0.38,-0.48,-0.57,-0.65,-0.7,-0.75,-0.82,-0.88,-0.94,-1.0,-1.06,-1.13,-1.2,-1.27,-1.35,-1.44,-1.54,-1.64,-1.8,-1.95,-2.15],
[0.09,-0.1,-0.28,-0.4,-0.5,-0.58,-0.65,-0.7,-0.75,-0.82,-0.88,-0.94,-1.0,-1.06,-1.13,-1.2,-1.27,-1.35,-1.44,-1.54,-1.64,-1.8,-1.95,-2.15],
[0.05,-0.15,-0.3,-0.42,-0.52,-0.6,-0.65,-0.7,-0.75,-0.82,-0.88,-0.94,-1.0,-1.06,-1.13,-1.2,-1.27,-1.35,-1.44,-1.54,-1.64,-1.8,-1.95,-2.15],
[-0.02,-0.2,-0.33,-0.43,-0.52,-0.6,-0.65,-0.7,-0.75,-0.82,-0.88,-0.94,-1.0,-1.06,-1.13,-1.2,-1.27,-1.35,-1.44,-1.54,-1.64,-1.8,-1.95,-2.15],
[-0.12,-0.25,-0.36,-0.45,-0.53,-0.6,-0.65,-0.7,-0.75,-0.82,-0.88,-0.94,-1.0,-1.06,-1.13,-1.2,-1.27,-1.35,-1.44,-1.54,-1.64,-1.8,-1.95,-2.15],
[-0.2,-0.3,-0.4,-0.47,-0.54,-0.6,-0.65,-0.7,-0.75,-0.82,-0.88,-0.94,-1.0,-1.06,-1.13,-1.2,-1.27,-1.35,-1.44,-1.54,-1.64,-1.8,-1.95,-2.15],
[-0.25,-0.33,-0.42,-0.48,-0.55,-0.6,-0.65,-0.7,-0.75,-0.82,-0.88,-0.94,-1.0,-1.06,-1.13,-1.2,-1.27,-1.35,-1.44,-1.54,-1.64,-1.8,-1.95,-2.15],
[-0.3,-0.36,-0.43,-0.49,-0.55,-0.6,-0.65,-0.7,-0.75,-0.82,-0.88,-0.94,-1.0,-1.06,-1.13,-1.2,-1.27,-1.35,-1.44,-1.54,-1.64,-1.8,-1.95,-2.15],
[-0.33,-0.38,-0.44,-0.5,-0.55,-0.6,-0.65,-0.7,-0.75,-0.82,-0.88,-0.94,-1.0,-1.06,-1.13,-1.2,-1.27,-1.35,-1.44,-1.54,-1.64,-1.8,-1.95,-2.15],
[-0.35,-0.4,-0.45,-0.5,-0.55,-0.6,-0.65,-0.7,-0.75,-0.82,-0.88,-0.94,-1.0,-1.06,-1.13,-1.2,-1.27,-1.35,-1.44,-1.54,-1.64,-1.8,-1.95,-2.15]
];
const effHalvedLeft = [
[0,0,0,0.01,0.01,0.015,0.02,0.027,0.035,0.044,0.054,0.065,0.079,0.091,0.104,0.121,0.139,0.16,0.183,0.206,0.237,0.27,0.305,0.339],
[0,0,0,0.01,0.01,0.015,0.02,0.027,0.035,0.044,0.054,0.065,0.077,0.089,0.102,0.119,0.135,0.156,0.177,0.2,0.227,0.257,0.285,0.311],
[0,0,0,0.007,0.011,0.014,0.02,0.026,0.034,0.043,0.052,0.063,0.075,0.088,0.101,0.116,0.132,0.151,0.172,0.193,0.218,0.244,0.266,0.282],
[0,0,0,0.007,0.011,0.014,0.02,0.026,0.034,0.043,0.052,0.063,0.073,0.085,0.098,0.113,0.127,0.146,0.165,0.184,0.204,0.227,0.244,0.255],
[0,0,0,0.007,0.01,0.013,0.018,0.024,0.032,0.039,0.048,0.058,0.07,0.082,0.094,0.108,0.122,0.139,0.155,0.172,0.189,0.206,0.22,0.228],
[0,0,0,0.007,0.01,0.013,0.018,0.024,0.032,0.039,0.048,0.058,0.066,0.078,0.09,0.102,0.116,0.131,0.145,0.16,0.174,0.188,0.199,0.205],
[0,0,0,0.006,0.009,0.012,0.017,0.021,0.028,0.035,0.043,0.052,0.063,0.073,0.085,0.097,0.109,0.122,0.135,0.148,0.161,0.172,0.181,0.186],
[0,0,0,0.006,0.009,0.012,0.017,0.021,0.028,0.035,0.043,0.052,0.059,0.069,0.079,0.091,0.101,0.113,0.125,0.135,0.147,0.156,0.164,0.167],
[0,0,0,0.005,0.007,0.01,0.014,0.018,0.023,0.03,0.037,0.045,0.055,0.064,0.074,0.083,0.094,0.104,0.115,0.124,0.132,0.141,0.146,0.149],
[0,0,0,0.005,0.007,0.01,0.014,0.018,0.023,0.03,0.037,0.045,0.051,0.06,0.068,0.077,0.086,0.095,0.105,0.113,0.119,0.127,0.131,0.133],
[0,0,0,0.003,0.005,0.008,0.011,0.014,0.019,0.024,0.03,0.037,0.046,0.054,0.063,0.07,0.079,0.087,0.095,0.102,0.108,0.114,0.118,0.12],
[0,0,0,0.003,0.005,0.008,0.011,0.014,0.019,0.024,0.03,0.037,0.042,0.05,0.057,0.064,0.072,0.079,0.086,0.092,0.097,0.103,0.106,0.107],
[0,0,0,0,0.004,0.006,0.008,0.011,0.014,0.019,0.024,0.03,0.038,0.045,0.051,0.058,0.065,0.071,0.077,0.083,0.088,0.092,0.095,0.096],
[0,0,0,0,0.004,0.006,0.008,0.011,0.014,0.019,0.024,0.03,0.034,0.04,0.045,0.052,0.057,0.063,0.069,0.074,0.078,0.082,0.084,0.085],
[0,0,0,0,0,0.003,0.005,0.006,0.009,0.011,0.014,0.018,0.029,0.035,0.04,0.045,0.051,0.056,0.06,0.065,0.068,0.071,0.073,0.074],
[0,0,0,0,0,0.003,0.005,0.006,0.009,0.011,0.014,0.018,0.024,0.028,0.033,0.037,0.042,0.046,0.05,0.054,0.056,0.059,0.061,0.062],
[0,0,0,0,0,0,0.002,0.004,0.005,0.007,0.009,0.011,0.017,0.02,0.024,0.027,0.031,0.035,0.038,0.041,0.044,0.046,0.047,0.048],
[0,0,0,0,0,0,0.002,0.004,0.005,0.007,0.009,0.011,0.011,0.014,0.017,0.02,0.023,0.026,0.029,0.031,0.033,0.035,0.036,0.037],
[0,0,0,0,0,0,0,0,0.002,0.003,0.004,0.005,0.008,0.01,0.012,0.015,0.017,0.019,0.022,0.024,0.025,0.026,0.027,0.028],
[0,0,0,0,0,0,0,0,0.002,0.003,0.004,0.005,0.004,0.006,0.008,0.01,0.011,0.013,0.015,0.016,0.017,0.018,0.019,0.02]
];
const effHalvedRight = [
[0,0,0,0,-0.01,-0.02,-0.04,-0.07,-0.11,-0.19,-0.29,-0.42,-0.56,-0.73,-0.92,-1.11,-1.3,-1.49,-1.68,-1.86,-2.02,-2.16,-2.29,-2.41],
[0,0,0,0,-0.01,-0.02,-0.04,-0.08,-0.13,-0.21,-0.31,-0.44,-0.6,-0.77,-0.95,-1.14,-1.33,-1.52,-1.71,-1.88,-2.04,-2.18,-2.31,-2.43],
[0,0,0,-0.01,-0.02,-0.03,-0.05,-0.09,-0.14,-0.23,-0.34,-0.47,-0.63,-0.8,-0.98,-1.17,-1.36,-1.55,-1.74,-1.91,-2.06,-2.2,-2.33,-2.45],
[0,0,0,-0.01,-0.02,-0.04,-0.06,-0.1,-0.16,-0.25,-0.37,-0.5,-0.66,-0.83,-1.01,-1.2,-1.39,-1.58,-1.76,-1.93,-2.08,-2.22,-2.35,-2.47],
[0,0,-0.01,-0.02,-0.03,-0.05,-0.07,-0.12,-0.19,-0.28,-0.4,-0.53,-0.69,-0.86,-1.04,-1.23,-1.42,-1.61,-1.79,-1.95,-2.1,-2.24,-2.37,-2.49],
[0,0,-0.01,-0.02,-0.04,-0.06,-0.09,-0.14,-0.21,-0.31,-0.43,-0.57,-0.73,-0.9,-1.08,-1.27,-1.46,-1.65,-1.82,-1.98,-2.13,-2.27,-2.39,-2.51],
[0,-0.01,-0.02,-0.03,-0.05,-0.07,-0.1,-0.16,-0.24,-0.34,-0.46,-0.61,-0.77,-0.95,-1.13,-1.32,-1.5,-1.68,-1.85,-2.01,-2.16,-2.3,-2.42,-2.53],
[0,-0.01,-0.03,-0.04,-0.06,-0.09,-0.12,-0.18,-0.27,-0.37,-0.5,-0.65,-0.81,-0.99,-1.17,-1.36,-1.54,-1.72,-1.89,-2.04,-2.19,-2.32,-2.44,-2.55],
[-0.01,-0.02,-0.04,-0.05,-0.07,-0.1,-0.14,-0.21,-0.3,-0.4,-0.54,-0.69,-0.85,-1.03,-1.21,-1.39,-1.57,-1.75,-1.92,-2.07,-2.21,-2.35,-2.47,-2.57],
[-0.02,-0.03,-0.05,-0.07,-0.09,-0.13,-0.17,-0.24,-0.34,-0.45,-0.59,-0.74,-0.9,-1.08,-1.25,-1.43,-1.61,-1.79,-1.95,-2.1,-2.25,-2.38,-2.5,-2.6],
[-0.03,-0.04,-0.06,-0.09,-0.12,-0.16,-0.21,-0.29,-0.39,-0.5,-0.64,-0.79,-0.95,-1.13,-1.3,-1.48,-1.65,-1.82,-1.98,-2.13,-2.27,-2.41,-2.53,-2.63],
[-0.04,-0.06,-0.09,-0.12,-0.15,-0.2,-0.26,-0.34,-0.45,-0.57,-0.7,-0.85,-1.01,-1.18,-1.34,-1.52,-1.69,-1.86,-2.02,-2.17,-2.31,-2.44,-2.56,-2.67],
[-0.06,-0.09,-0.12,-0.15,-0.2,-0.25,-0.32,-0.41,-0.52,-0.64,-0.77,-0.91,-1.06,-1.23,-1.39,-1.56,-1.73,-1.9,-2.05,-2.2,-2.34,-2.47,-2.59,-2.7],
[-0.09,-0.12,-0.16,-0.2,-0.26,-0.32,-0.39,-0.48,-0.59,-0.71,-0.84,-0.98,-1.13,-1.28,-1.44,-1.61,-1.78,-1.94,-2.09,-2.24,-2.38,-2.51,-2.63,-2.74],
[-0.13,-0.17,-0.21,-0.27,-0.33,-0.4,-0.48,-0.57,-0.68,-0.8,-0.92,-1.05,-1.2,-1.35,-1.5,-1.66,-1.83,-1.99,-2.14,-2.28,-2.42,-2.55,-2.68,-2.79],
[-0.18,-0.23,-0.29,-0.35,-0.42,-0.5,-0.58,-0.67,-0.78,-0.89,-1.01,-1.14,-1.28,-1.42,-1.57,-1.72,-1.88,-2.04,-2.19,-2.33,-2.47,-2.6,-2.73,-2.84],
[-0.25,-0.31,-0.38,-0.45,-0.53,-0.61,-0.69,-0.78,-0.89,-1.0,-1.11,-1.23,-1.37,-1.5,-1.64,-1.8,-1.95,-2.1,-2.25,-2.39,-2.53,-2.66,-2.78,-2.88],
[-0.31,-0.38,-0.46,-0.54,-0.62,-0.7,-0.79,-0.88,-0.97,-1.08,-1.19,-1.31,-1.43,-1.56,-1.7,-1.85,-2.0,-2.15,-2.3,-2.44,-2.58,-2.71,-2.83,-2.93],
[-0.36,-0.44,-0.53,-0.62,-0.7,-0.78,-0.86,-0.95,-1.04,-1.14,-1.24,-1.36,-1.48,-1.61,-1.74,-1.88,-2.03,-2.18,-2.33,-2.47,-2.61,-2.74,-2.87,-2.98],
[-0.41,-0.5,-0.61,-0.7,-0.78,-0.86,-0.94,-1.02,-1.1,-1.2,-1.3,-1.41,-1.52,-1.65,-1.78,-1.92,-2.07,-2.22,-2.37,-2.51,-2.65,-2.78,-2.91,-3.02]
];
const effDoubledLeft = [
[0.01,0.07,0.095,0.107,0.118,0.13,0.142,0.157,0.178,0.199,0.22,0.24,0.263,0.287,0.31,0.333,0.352,0.37,0.389,0.408,0.427,0.45,0.473,0.495],
[0.01,0.066,0.09,0.102,0.112,0.125,0.137,0.151,0.17,0.19,0.209,0.227,0.249,0.271,0.293,0.315,0.334,0.352,0.372,0.391,0.41,0.432,0.453,0.473],
[0.01,0.063,0.085,0.097,0.108,0.12,0.132,0.145,0.163,0.181,0.199,0.216,0.236,0.257,0.278,0.299,0.317,0.336,0.356,0.376,0.395,0.415,0.434,0.452],
[0.01,0.06,0.08,0.092,0.103,0.115,0.127,0.14,0.156,0.172,0.189,0.204,0.223,0.243,0.263,0.282,0.301,0.32,0.34,0.36,0.38,0.398,0.415,0.431],
[0.01,0.056,0.075,0.087,0.098,0.11,0.122,0.135,0.149,0.164,0.178,0.192,0.21,0.229,0.248,0.266,0.284,0.304,0.325,0.345,0.365,0.381,0.397,0.411],
[0.01,0.053,0.07,0.082,0.093,0.105,0.117,0.129,0.141,0.155,0.168,0.181,0.198,0.215,0.233,0.25,0.268,0.288,0.309,0.33,0.35,0.364,0.378,0.39],
[0.01,0.05,0.066,0.077,0.088,0.1,0.112,0.124,0.135,0.147,0.159,0.17,0.186,0.202,0.219,0.235,0.253,0.274,0.295,0.316,0.336,0.349,0.361,0.372],
[0.012,0.046,0.06,0.07,0.08,0.091,0.102,0.113,0.124,0.136,0.147,0.157,0.172,0.187,0.202,0.217,0.233,0.253,0.272,0.292,0.31,0.323,0.335,0.347],
[0.026,0.042,0.055,0.064,0.073,0.083,0.093,0.104,0.114,0.125,0.136,0.146,0.159,0.172,0.186,0.2,0.215,0.233,0.251,0.269,0.287,0.3,0.312,0.324],
[0.024,0.038,0.049,0.058,0.067,0.076,0.085,0.094,0.104,0.115,0.125,0.134,0.146,0.158,0.171,0.183,0.196,0.213,0.23,0.247,0.263,0.276,0.288,0.3],
[0.022,0.034,0.044,0.052,0.06,0.068,0.076,0.085,0.094,0.105,0.114,0.123,0.133,0.144,0.155,0.166,0.178,0.194,0.209,0.225,0.24,0.253,0.265,0.278],
[0.02,0.03,0.038,0.045,0.052,0.059,0.066,0.074,0.083,0.093,0.102,0.11,0.119,0.128,0.138,0.147,0.158,0.172,0.186,0.2,0.214,0.227,0.239,0.252],
[0.017,0.026,0.033,0.04,0.046,0.052,0.058,0.066,0.074,0.083,0.091,0.098,0.107,0.115,0.125,0.133,0.143,0.156,0.168,0.181,0.194,0.206,0.218,0.23],
[0.015,0.022,0.028,0.033,0.039,0.045,0.05,0.057,0.064,0.072,0.079,0.085,0.093,0.101,0.11,0.118,0.127,0.138,0.149,0.16,0.172,0.183,0.194,0.206],
[0.012,0.018,0.022,0.027,0.032,0.037,0.042,0.048,0.053,0.06,0.067,0.072,0.08,0.087,0.095,0.102,0.11,0.12,0.13,0.139,0.15,0.16,0.171,0.182],
[0.009,0.013,0.017,0.021,0.025,0.029,0.034,0.039,0.043,0.049,0.054,0.06,0.066,0.073,0.08,0.086,0.094,0.102,0.11,0.118,0.127,0.138,0.147,0.158],
[0.006,0.009,0.012,0.015,0.018,0.022,0.025,0.03,0.033,0.038,0.042,0.047,0.053,0.059,0.065,0.071,0.077,0.084,0.091,0.098,0.105,0.115,0.124,0.133],
[0.004,0.006,0.008,0.01,0.013,0.016,0.018,0.022,0.024,0.028,0.031,0.035,0.04,0.045,0.05,0.054,0.06,0.065,0.07,0.075,0.081,0.089,0.097,0.104],
[0.003,0.004,0.006,0.007,0.009,0.011,0.012,0.015,0.017,0.019,0.021,0.024,0.027,0.031,0.034,0.037,0.041,0.044,0.048,0.052,0.056,0.061,0.066,0.071],
[0.002,0.003,0.003,0.004,0.005,0.006,0.007,0.008,0.009,0.011,0.012,0.014,0.015,0.018,0.02,0.021,0.024,0.026,0.027,0.03,0.032,0.035,0.038,0.041]
];
const effDoubledRight = [
[0.02,-0.03,-0.45,-0.65,-0.76,-0.85,-0.92,-0.99,-1.08,-1.18,-1.28,-1.38,-1.49,-1.6,-1.71,-1.82,-1.93,-2.05,-2.17,-2.3,-2.45,-2.61,-2.79,-2.98],
[0.02,-0.05,-0.48,-0.66,-0.77,-0.85,-0.92,-0.99,-1.08,-1.18,-1.28,-1.38,-1.49,-1.6,-1.71,-1.82,-1.93,-2.05,-2.17,-2.3,-2.45,-2.61,-2.79,-2.98],
[0.01,-0.1,-0.5,-0.67,-0.77,-0.86,-0.92,-0.99,-1.08,-1.18,-1.28,-1.38,-1.49,-1.6,-1.71,-1.82,-1.93,-2.05,-2.17,-2.3,-2.45,-2.61,-2.79,-2.98],
[-0.02,-0.2,-0.53,-0.68,-0.78,-0.86,-0.93,-1.0,-1.09,-1.19,-1.29,-1.39,-1.5,-1.61,-1.72,-1.83,-1.94,-2.06,-2.18,-2.31,-2.46,-2.62,-2.8,-3.0],
[-0.07,-0.28,-0.56,-0.69,-0.79,-0.87,-0.93,-1.0,-1.09,-1.19,-1.29,-1.39,-1.5,-1.61,-1.72,-1.83,-1.94,-2.06,-2.18,-2.31,-2.46,-2.62,-2.8,-3.0],
[-0.12,-0.35,-0.58,-0.7,-0.79,-0.87,-0.93,-1.0,-1.09,-1.19,-1.29,-1.39,-1.5,-1.61,-1.72,-1.83,-1.94,-2.06,-2.18,-2.31,-2.46,-2.62,-2.8,-3.0],
[-0.17,-0.4,-0.6,-0.71,-0.8,-0.88,-0.94,-1.01,-1.1,-1.2,-1.3,-1.4,-1.51,-1.62,-1.73,-1.84,-1.95,-2.07,-2.19,-2.32,-2.47,-2.63,-2.81,-3.01],
[-0.22,-0.45,-0.62,-0.72,-0.81,-0.88,-0.94,-1.01,-1.1,-1.2,-1.3,-1.4,-1.51,-1.62,-1.73,-1.84,-1.95,-2.07,-2.19,-2.32,-2.47,-2.63,-2.81,-3.01],
[-0.28,-0.5,-0.64,-0.73,-0.82,-0.89,-0.95,-1.02,-1.11,-1.21,-1.31,-1.41,-1.52,-1.63,-1.74,-1.85,-1.96,-2.08,-2.2,-2.33,-2.48,-2.64,-2.82,-3.02],
[-0.33,-0.54,-0.66,-0.75,-0.83,-0.9,-0.96,-1.03,-1.12,-1.22,-1.32,-1.42,-1.53,-1.64,-1.75,-1.86,-1.97,-2.09,-2.21,-2.34,-2.49,-2.65,-2.83,-3.03]
];

// ---------------- region boundary curves ([n]0, [q]0) ----------------
const curveUptakeNG = [[0.5,0.114],[1.0,0.177],[1.8,0.245],[2.6,0.299],[3.4,0.341],[4.2,0.376],[5.0,0.409]];
const curveUptakeHO = [[0.5,0.026],[1.2,0.114],[2.0,0.177],[2.8,0.227],[3.6,0.263],[4.4,0.29],[5.0,0.304]];
const curveToxNG = [[0.5,0.106],[0.64,0.165],[0.88,0.22],[1.2,0.27],[1.85,0.35],[2.66,0.415],[3.46,0.462],[4.27,0.5]];
const curveToxHO = [[0.5,0.084],[0.64,0.14],[0.88,0.19],[1.2,0.24],[1.85,0.31],[2.66,0.365],[3.46,0.405],[4.27,0.428],[5.0,0.439]];
const curveInvNG = [[0.5,0.209],[0.7,0.265],[0.86,0.312],[1.0,0.36],[1.12,0.41],[1.25,0.455],[1.37,0.5]];
const curveInvHO = [[0.5,0.142],[0.7,0.22],[0.85,0.28],[1.05,0.339],[1.25,0.39],[1.45,0.43],[1.6,0.465],[1.78,0.5]];

// ---------------- region annotations ----------------
const annotations = [
  {row:0, col:0, n:1.78, q:0.397, text:'n.g.', white:false, rotate:0},
  {row:0, col:1, n:1.80, q:0.397, text:'n.g.', white:false, rotate:0},
  {row:0, col:1, n:4.48, q:0.338, text:'h.o.', white:true, rotate:0},
  {row:1, col:2, n:1.64, q:0.42, text:'n.g.', white:false, rotate:0},
  {row:1, col:3, n:1.64, q:0.42, text:'n.g.', white:false, rotate:0},
  {row:1, col:3, n:4.51, q:0.469, text:'h.o.', white:true, rotate:0},
  {row:2, col:2, n:0.89, q:0.474, text:'n.g.', white:false, rotate:0},
  {row:2, col:3, n:0.83, q:0.474, text:'n.g.', white:false, rotate:0},
  {row:2, col:3, n:1.36, q:0.456, text:'h.o.', white:true, rotate:68}
];

// ---------------- layout & styling ----------------
const X_MIN = 0.5, X_MAX = 5.0, Y_MIN = 0.0, Y_MAX = 0.5;
const LEFTS = [112, 337, 646, 871];
const TOPS = [47, 312, 577, 842];
const W = 186, H = 185;
const brbg = ['#543005','#8c510a','#bf812d','#dfc27d','#f6e8c3','#f5f5f5','#c7eae5','#80cdc1','#35978f','#01665e','#003c30'];
const TXT = '#1a1a1a';
const NUM_FONT = 'DejaVu Sans';
const TEXT_FONT = 'Noto Sans';

// piecewise colour scale: 0..0.5 on the upper half, -4..0 on the lower half
function toScale(v) { return v >= 0 ? Math.min(v / 0.5, 1) : Math.max(v / 4, -1); }

const panels = [
  {row:0,col:0,field:uptakeHalvedLeft,curves:[curveUptakeNG]},
  {row:0,col:1,field:uptakeHalvedRight,curves:[curveUptakeNG,curveUptakeHO]},
  {row:0,col:2,field:uptakeDoubledLeft,curves:[]},
  {row:0,col:3,field:uptakeDoubledRight,curves:[]},
  {row:1,col:0,field:toxHalvedLeft,curves:[]},
  {row:1,col:1,field:toxHalvedRight,curves:[]},
  {row:1,col:2,field:toxDoubledLeft,curves:[curveToxNG]},
  {row:1,col:3,field:toxDoubledRight,curves:[curveToxNG,curveToxHO]},
  {row:2,col:0,field:invHalvedLeft,curves:[]},
  {row:2,col:1,field:invHalvedRight,curves:[]},
  {row:2,col:2,field:invDoubledLeft,curves:[curveInvNG]},
  {row:2,col:3,field:invDoubledRight,curves:[curveInvNG,curveInvHO]},
  {row:3,col:0,field:effHalvedLeft,curves:[]},
  {row:3,col:1,field:effHalvedRight,curves:[]},
  {row:3,col:2,field:effDoubledLeft,curves:[]},
  {row:3,col:3,field:effDoubledRight,curves:[]}
];

const grids = [], xAxes = [], yAxes = [], series = [], heatIdx = [];
const tickStyle = {color: '#222', width: 1.5};
const nameRich = {
  m: {fontSize: 25, fontFamily: TEXT_FONT, color: TXT, lineHeight: 30},
  s: {fontSize: 19, fontFamily: TEXT_FONT, color: TXT, verticalAlign: 'bottom', lineHeight: 19}
};

panels.forEach(function (p, k) {
  const bottom = p.row === 3;
  const first = p.col === 0;
  grids.push({left: LEFTS[p.col], top: TOPS[p.row], width: W, height: H, show: true,
    borderColor: '#222', borderWidth: 1.6, backgroundColor: 'rgba(0,0,0,0)', z: 10});
  xAxes.push({gridIndex: k, type: 'value', min: X_MIN, max: X_MAX,
    axisLine: {show: false}, splitLine: {show: false},
    axisTick: {show: bottom, customValues: xTicks, length: 7, lineStyle: tickStyle},
    axisLabel: {show: bottom, customValues: xTicks, margin: 19, fontSize: 23, color: TXT, fontFamily: NUM_FONT,
      formatter: function (v) { return Number(v).toFixed(1); }},
    name: bottom ? xName : '', nameLocation: 'middle', nameGap: 51,
    nameTextStyle: {rich: nameRich}, z: 11});
  yAxes.push({gridIndex: k, type: 'value', min: Y_MIN, max: Y_MAX,
    axisLine: {show: false}, splitLine: {show: false},
    axisTick: {show: first, customValues: yTicks, length: 8, lineStyle: tickStyle},
    axisLabel: {show: first, customValues: yTicks, margin: 18, fontSize: 23, color: TXT, fontFamily: NUM_FONT,
      formatter: function (v) { return Number(v).toFixed(1); }},
    name: first ? yName : '', nameLocation: 'middle', nameGap: 72, nameRotate: 90,
    nameTextStyle: {rich: nameRich}, z: 11});

  const nR = p.field.length, nC = p.field[0].length;
  const dx = (X_MAX - X_MIN) / nC, dy = (Y_MAX - Y_MIN) / nR;
  const data = [];
  p.field.forEach(function (row, i) {
    row.forEach(function (v, j) {
      data.push([X_MIN + (j + 0.5) * dx, Y_MAX - (i + 0.5) * dy, toScale(v), v]);
    });
  });
  heatIdx.push(series.length);
  series.push({type: 'custom', xAxisIndex: k, yAxisIndex: k, clip: true, silent: true,
    encode: {x: 0, y: 1}, data: data, z: 2,
    renderItem: function (params, api) {
      const x = api.value(0), y = api.value(1);
      const a = api.coord([x - dx / 2, y + dy / 2]);
      const b = api.coord([x + dx / 2, y - dy / 2]);
      return {type: 'rect', shape: {x: a[0], y: a[1], width: b[0] - a[0] + 0.7, height: b[1] - a[1] + 0.7},
        style: {fill: api.visual('color')}};
    }});
  p.curves.forEach(function (c) {
    series.push({type: 'line', xAxisIndex: k, yAxisIndex: k, data: c, smooth: true, symbol: 'none',
      clip: true, silent: true, lineStyle: {color: '#111', width: 1.6}, z: 5});
  });
});

annotations.forEach(function (a) {
  const k = panels.findIndex(function (p) { return p.row === a.row && p.col === a.col; });
  series.push({type: 'scatter', xAxisIndex: k, yAxisIndex: k, data: [[a.n, a.q]], symbolSize: 1,
    silent: true, itemStyle: {color: 'rgba(0,0,0,0)'}, z: 6,
    label: {show: true, position: 'inside', formatter: a.text, rotate: a.rotate,
      color: a.white ? '#ffffff' : '#111', fontWeight: 'bold', fontSize: 14, fontFamily: TEXT_FONT}});
});

// colour bar axis
const CB = {left: 1089, top: 412, width: 9, height: 248};
grids.push({left: CB.left, top: CB.top, width: CB.width, height: CB.height, show: true,
  borderColor: '#222', borderWidth: 1.2, backgroundColor: 'rgba(0,0,0,0)', z: 10});
xAxes.push({gridIndex: 16, type: 'value', min: 0, max: 1, show: false});
yAxes.push({gridIndex: 16, type: 'value', min: -1, max: 1, position: 'right',
  axisLine: {show: false}, splitLine: {show: false},
  axisTick: {show: true, customValues: cbTickPos, length: 6, lineStyle: tickStyle},
  axisLabel: {show: true, customValues: cbTickPos, margin: 14, fontSize: 20, color: TXT, fontFamily: NUM_FONT,
    formatter: function (v) {
      const i = cbTickPos.findIndex(function (t) { return Math.abs(t - v) < 1e-6; });
      return i >= 0 ? cbTickLabels[i] : '';
    }},
  name: cbName, nameLocation: 'middle', nameRotate: -90, nameGap: 70,
  nameTextStyle: {fontSize: 24, color: TXT, fontFamily: TEXT_FONT}, z: 11});

const titles = panelTitles.map(function (t, i) {
  return {text: t, left: LEFTS[(i % 2) * 2] - 1, top: TOPS[Math.floor(i / 2)] - 38, padding: 0,
    textStyle: {fontFamily: TEXT_FONT, fontWeight: 'bold', fontSize: 24.5, color: '#111'}};
});

const chart = echarts.init(document.getElementById('chart'), null, {renderer: 'canvas'});
chart.setOption({
  animation: false,
  backgroundColor: '#ffffff',
  title: titles,
  grid: grids,
  xAxis: xAxes,
  yAxis: yAxes,
  visualMap: {type: 'continuous', min: -1, max: 1, dimension: 2, seriesIndex: heatIdx,
    inRange: {color: brbg}, show: true, orient: 'vertical', left: CB.left, top: CB.top,
    itemWidth: CB.width, itemHeight: CB.height, padding: 0, calculable: false, text: null,
    hoverLink: false, z: 4},
  series: series
});
</script>
</body>
</html>
